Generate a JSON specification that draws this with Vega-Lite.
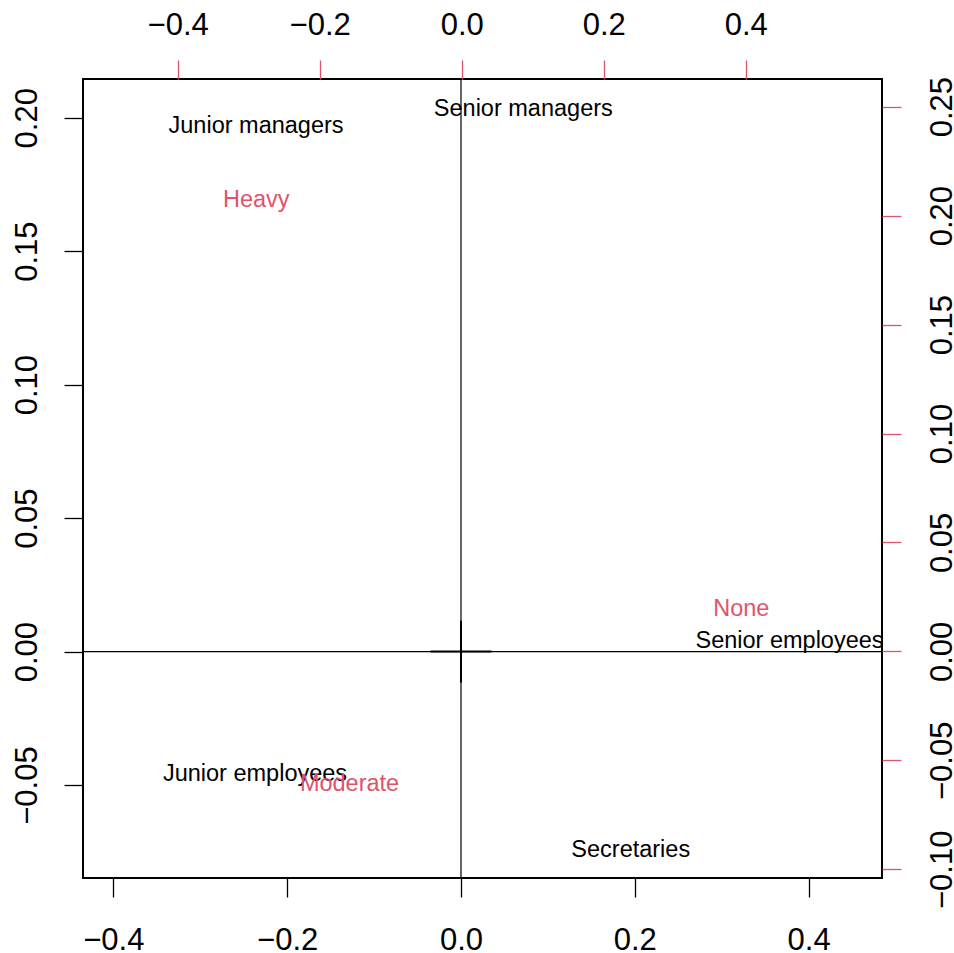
{
  "$schema": "https://vega.github.io/schema/vega-lite/v6.json",
  "width": 799,
  "height": 799,
  "autosize": {"type": "none"},
  "padding": {"left": 83, "top": 79, "right": 72, "bottom": 75},
  "background": "white",
  "config": {
    "view": {"stroke": "black", "strokeWidth": 2},
    "font": "Liberation Sans",
    "axis": {
      "domain": false,
      "grid": false,
      "labelFont": "Liberation Sans",
      "labelFontSize": 31,
      "labelColor": "black",
      "tickSize": 19,
      "tickWidth": 1.3,
      "tickColor": "black",
      "labelFlush": false,
      "labelOverlap": false,
      "labelBound": false,
      "title": null
    }
  },
  "datasets": {
    "origin": [{"v": 0}],
    "rows": [
      {"label": "Senior managers", "x": 0.0717, "y": 0.2038},
      {"label": "Junior managers", "x": -0.2358, "y": 0.1973},
      {"label": "Senior employees", "x": 0.378, "y": 0.00457},
      {"label": "Junior employees", "x": -0.237, "y": -0.0455},
      {"label": "Secretaries", "x": 0.1953, "y": -0.0738}
    ],
    "cols": [
      {"label": "None", "x": 0.3938, "y": 0.0199},
      {"label": "Moderate", "x": -0.158, "y": -0.0603},
      {"label": "Heavy", "x": -0.2893, "y": 0.2078}
    ],
    "cross": [
      {"x": -0.0351, "x2": 0.0351, "y": 0, "y2": 0},
      {"x": 0, "x2": 0, "y": -0.0116, "y2": 0.0116}
    ]
  },
  "layer": [
    {
      "data": {"name": "origin"},
      "mark": {"type": "rule", "color": "black", "strokeWidth": 1.2},
      "encoding": {
        "y": {"field": "v", "type": "quantitative", "scale": {"domain": [-0.0848, 0.2145], "nice": false, "zero": false}, "axis": null}
      }
    },
    {
      "data": {"name": "origin"},
      "mark": {"type": "rule", "color": "black", "strokeWidth": 1.2},
      "encoding": {
        "x": {"field": "v", "type": "quantitative", "scale": {"domain": [-0.4349, 0.4844], "nice": false, "zero": false}, "axis": null}
      }
    },
    {
      "data": {"name": "cross"},
      "mark": {"type": "rule", "color": "black", "strokeWidth": 2},
      "encoding": {
        "x": {"field": "x", "type": "quantitative", "scale": {"domain": [-0.4349, 0.4844], "nice": false, "zero": false}, "axis": null},
        "x2": {"field": "x2"},
        "y": {"field": "y", "type": "quantitative", "scale": {"domain": [-0.0848, 0.2145], "nice": false, "zero": false}, "axis": null},
        "y2": {"field": "y2"}
      }
    },
    {
      "data": {"name": "rows"},
      "mark": {"type": "text", "color": "black", "fontSize": 23.5, "font": "Liberation Sans", "align": "center", "baseline": "alphabetic", "dy": 8.4},
      "encoding": {
        "x": {"field": "x", "type": "quantitative", "scale": {"domain": [-0.4349, 0.4844], "nice": false, "zero": false},
              "axis": {"orient": "bottom", "values": [-0.4, -0.2, 0, 0.2, 0.4], "format": ".1f", "labelBaseline": "alphabetic", "labelAlign": "center", "labelPadding": 52}},
        "y": {"field": "y", "type": "quantitative", "scale": {"domain": [-0.0848, 0.2145], "nice": false, "zero": false},
              "axis": {"orient": "left", "values": [-0.05, 0, 0.05, 0.1, 0.15, 0.2], "format": ".2f", "labelAngle": -90, "labelAlign": "center", "labelBaseline": "alphabetic", "labelPadding": 27.5}},
        "text": {"field": "label"}
      }
    },
    {
      "data": {"name": "cols"},
      "mark": {"type": "text", "color": "#DF536B", "fontSize": 23.5, "font": "Liberation Sans", "align": "center", "baseline": "alphabetic", "dy": 8.4},
      "encoding": {
        "x": {"field": "x", "type": "quantitative", "scale": {"domain": [-0.5334, 0.592], "nice": false, "zero": false},
              "axis": {"orient": "top", "values": [-0.4, -0.2, 0, 0.2, 0.4], "format": ".1f", "tickColor": "#DF536B", "labelBaseline": "alphabetic", "labelAlign": "center", "labelPadding": 26}},
        "y": {"field": "y", "type": "quantitative", "scale": {"domain": [-0.104, 0.2627], "nice": false, "zero": false},
              "axis": {"orient": "right", "values": [-0.1, -0.05, 0, 0.05, 0.1, 0.15, 0.2, 0.25], "format": ".2f", "tickColor": "#DF536B", "labelAngle": -90, "labelAlign": "center", "labelBaseline": "alphabetic", "labelPadding": 50}},
        "text": {"field": "label"}
      }
    }
  ],
  "resolve": {
    "scale": {"x": "independent", "y": "independent"},
    "axis": {"x": "independent", "y": "independent"}
  }
}
